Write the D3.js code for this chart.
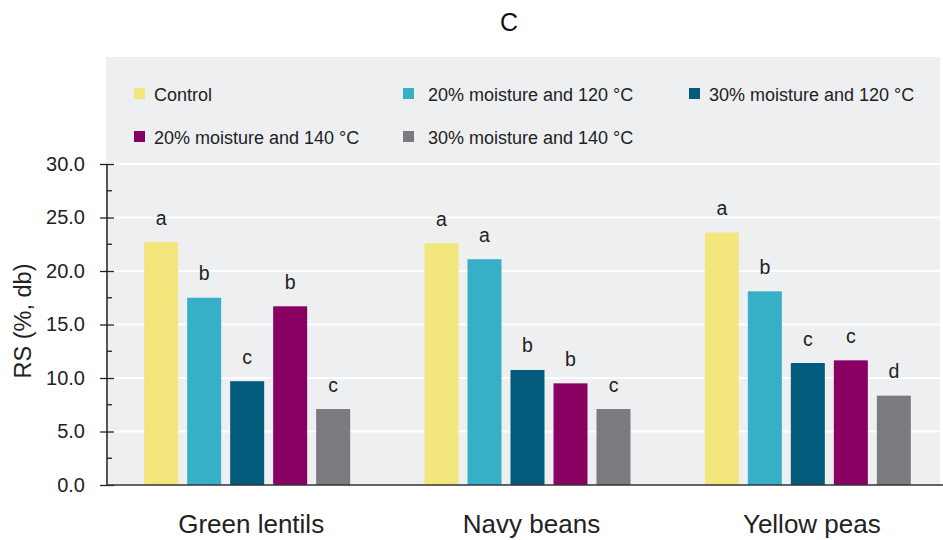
<!DOCTYPE html>
<html>
<head>
<meta charset="utf-8">
<script src="https://cdn.jsdelivr.net/npm/d3@7"></script>
<style>
  body { margin: 0; background: #fff; }
  svg { display: block; font-family: "Liberation Sans", Arial, sans-serif; }
</style>
</head>
<body>
<svg id="chart" width="943" height="540"></svg>
<script>
// data
const categories = ["Green lentils", "Navy beans", "Yellow peas"];
const seriesNames = ["Control", "20% moisture and 120 °C", "30% moisture and 120 °C",
  "20% moisture and 140 °C", "30% moisture and 140 °C"];
const seriesColors = ["#f2e67c", "#37afc6", "#035b7c", "#870062", "#7a7b7f"];
const controlVals = [22.7, 22.6, 23.6];
const m20t120Vals = [17.5, 21.1, 18.1];
const m30t120Vals = [9.7, 10.75, 11.4];
const m20t140Vals = [16.7, 9.5, 11.65];
const m30t140Vals = [7.1, 7.1, 8.35];
const controlLetters = ["a", "a", "a"];
const m20t120Letters = ["b", "a", "b"];
const m30t120Letters = ["c", "b", "c"];
const m20t140Letters = ["b", "b", "c"];
const m30t140Letters = ["c", "c", "d"];
const yTicks = [0, 5, 10, 15, 20, 25, 30];
const yMinorTicks = [2.5, 7.5, 12.5, 17.5, 22.5, 27.5];

const allVals = [controlVals, m20t120Vals, m30t120Vals, m20t140Vals, m30t140Vals];
const allLetters = [controlLetters, m20t120Letters, m30t120Letters, m20t140Letters, m30t140Letters];

// flat table for drawing
const rows = [];
categories.forEach((c, ci) => {
  seriesNames.forEach((s, si) => {
    rows.push({ cat: c, series: s, value: allVals[si][ci], letter: allLetters[si][ci], color: seriesColors[si] });
  });
});

const svg = d3.select("#chart");

// plot area
const plot = { left: 107, right: 940, top: 57, bottom: 485 };

const y = d3.scaleLinear().domain([0, 40]).range([plot.bottom, plot.top]);
const x0 = d3.scaleBand().domain(categories).range([107, 948]).padding(0);
const x1 = d3.scaleBand().domain(seriesNames).range([0, 206]).paddingInner(9 / 43).paddingOuter(0);
const groupOffset = (x0.bandwidth() - 206) / 2;

// background
svg.append("rect")
  .attr("x", plot.left - 1)
  .attr("y", plot.top)
  .attr("width", plot.right - plot.left + 1)
  .attr("height", plot.bottom - plot.top)
  .attr("fill", "#eeeff1");

// gridlines
svg.append("g")
  .selectAll("line")
  .data(yTicks.filter(d => d > 0))
  .join("line")
  .attr("x1", plot.left)
  .attr("x2", plot.right)
  .attr("y1", d => y(d))
  .attr("y2", d => y(d))
  .attr("stroke", "#ffffff")
  .attr("stroke-width", 2);

// bars
svg.append("g")
  .selectAll("rect")
  .data(rows)
  .join("rect")
  .attr("x", d => x0(d.cat) + groupOffset + x1(d.series))
  .attr("y", d => y(d.value))
  .attr("width", x1.bandwidth())
  .attr("height", d => y(0) - y(d.value))
  .attr("fill", d => d.color);

// significance letters
svg.append("g")
  .selectAll("text")
  .data(rows)
  .join("text")
  .attr("x", d => x0(d.cat) + groupOffset + x1(d.series) + x1.bandwidth() / 2)
  .attr("y", d => y(d.value) - 17.5)
  .attr("text-anchor", "middle")
  .attr("font-size", 19.5)
  .attr("fill", "#222")
  .text(d => d.letter);

// y axis
const yAxis = d3.axisLeft(y)
  .tickValues(yTicks)
  .tickSize(7)
  .tickPadding(15)
  .tickFormat(d3.format(".1f"));

const yg = svg.append("g")
  .attr("transform", `translate(${plot.left},0)`)
  .call(yAxis);
yg.select(".domain").remove();
yg.selectAll(".tick line").attr("x2", 7).attr("x1", -7).attr("stroke", "#222").attr("stroke-width", 1.3);
yg.selectAll(".tick text").attr("font-size", 20).attr("fill", "#222").attr("font-family", "Liberation Sans, Arial, sans-serif");

// axis line
yg.append("line")
  .attr("x1", 0).attr("x2", 0)
  .attr("y1", y(30)).attr("y2", y(0))
  .attr("stroke", "#222").attr("stroke-width", 1.5);

// minor ticks
yg.append("g")
  .selectAll("line")
  .data(yMinorTicks)
  .join("line")
  .attr("x1", 0).attr("x2", 5)
  .attr("y1", d => y(d)).attr("y2", d => y(d))
  .attr("stroke", "#222").attr("stroke-width", 1.3);

// x baseline
svg.append("line")
  .attr("x1", plot.left).attr("x2", 943)
  .attr("y1", y(0)).attr("y2", y(0))
  .attr("stroke", "#333").attr("stroke-width", 1.5);

// category labels
svg.append("g")
  .selectAll("text")
  .data(categories)
  .join("text")
  .attr("x", d => x0(d) + x0.bandwidth() / 2 + 4)
  .attr("y", 533)
  .attr("text-anchor", "middle")
  .attr("font-size", 26)
  .attr("fill", "#222")
  .text(d => d);

// y label
svg.append("text")
  .attr("transform", "translate(31,321) rotate(-90)")
  .attr("text-anchor", "middle")
  .attr("font-size", 23.5)
  .attr("fill", "#222")
  .text("RS (%, db)");

// title
svg.append("text")
  .attr("x", 509)
  .attr("y", 31)
  .attr("text-anchor", "middle")
  .attr("font-size", 25)
  .attr("fill", "#111")
  .text("C");

// legend
const legendPos = [
  { sx: 134, tx: 154, y: 88 },
  { sx: 403, tx: 428, y: 88 },
  { sx: 689, tx: 709, y: 88 },
  { sx: 134, tx: 154, y: 131 },
  { sx: 403, tx: 428, y: 131 }
];
const legend = svg.append("g")
  .selectAll("g")
  .data(seriesNames)
  .join("g");
legend.append("rect")
  .attr("x", (d, i) => legendPos[i].sx)
  .attr("y", (d, i) => legendPos[i].y)
  .attr("width", 11)
  .attr("height", 11)
  .attr("fill", (d, i) => seriesColors[i]);
legend.append("text")
  .attr("x", (d, i) => legendPos[i].tx)
  .attr("y", (d, i) => legendPos[i].y + 12.5)
  .attr("font-size", 18)
  .attr("fill", "#222")
  .text(d => d);
</script>
</body>
</html>
